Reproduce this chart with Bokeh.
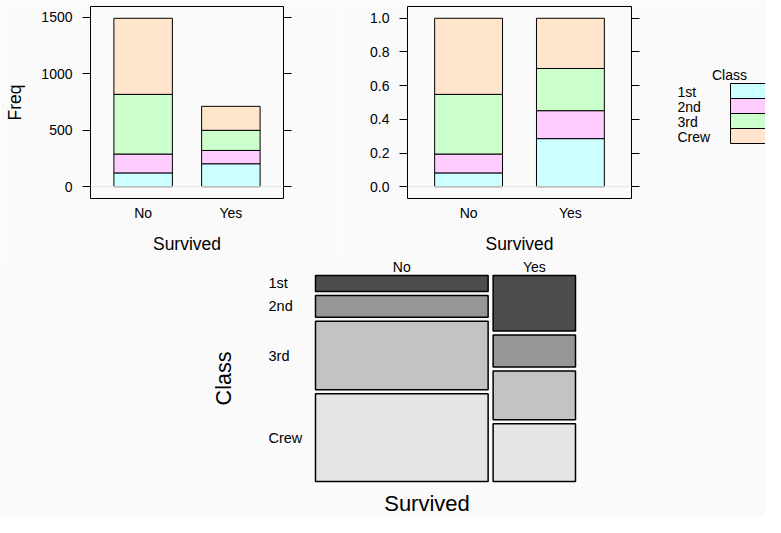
import math
from bokeh.plotting import figure
from bokeh.models import Range1d, FixedTicker, LinearAxis, Span, NumeralTickFormatter, BasicTickFormatter
from bokeh.layouts import row, column
from bokeh.embed import file_html
from bokeh.resources import INLINE
from bokeh.core.properties import value

# ---------------- data ----------------
survived = ["No", "Yes"]
classes = ["1st", "2nd", "3rd", "Crew"]
freq_no = [122, 167, 528, 673]
freq_yes = [203, 118, 178, 212]
freq_ticks = [0, 500, 1000, 1500]
prop_ticks = [0.0, 0.2, 0.4, 0.6, 0.8, 1.0]
class_colors = ["#CCFFFF", "#FFCCFF", "#CCFFCC", "#FFE5CC"]
mosaic_grays = ["#4D4D4D", "#969696", "#C3C3C3", "#E6E6E6"]

FONT = "Liberation Sans"
BG = "#fafafa"
TOTAL_W = 765
TOTAL_H = 517
TOP_H = 256
FR_TOP = 6
FR_H = 192

counts = [freq_no, freq_yes]
col_totals = [sum(c) for c in counts]
props = [[v / t for v in c] for c, t in zip(counts, col_totals)]


def bar_panel(table, ticks, formatter, frame_w, left, right, ylab):
    n = len(survived)
    xs = list(range(1, n + 1))
    ymax = max(sum(col) for col in table)
    p = figure(frame_width=frame_w, frame_height=FR_H,
               min_border_left=left, min_border_right=right,
               min_border_top=FR_TOP, min_border_bottom=TOP_H - FR_TOP - FR_H,
               x_range=Range1d(0.4, n + 0.6),
               y_range=Range1d(-0.07 * ymax, 1.07 * ymax),
               output_backend="svg", toolbar_location=None,
               background_fill_color=BG, border_fill_color=BG)
    p.grid.visible = False
    p.outline_line_color = "black"
    p.outline_line_width = 1
    p.outline_line_alpha = 1

    p.add_layout(Span(location=0, dimension="width", line_color="#E6E6E6", line_width=1))

    src = {"x": xs}
    for i, c in enumerate(classes):
        src[c] = [table[j][i] for j in range(n)]
    p.vbar_stack(classes, x="x", width=2 / 3, source=src,
                 fill_color=class_colors, line_color="black", line_width=1)

    xa = p.xaxis[0]
    xa.ticker = FixedTicker(ticks=xs)
    xa.major_label_overrides = {x: s for x, s in zip(xs, survived)}
    xa.major_tick_out = 0
    xa.major_tick_in = 0
    xa.minor_tick_line_color = None
    xa.axis_line_color = None
    xa.major_label_standoff = 6
    xa.major_label_text_font = FONT
    xa.major_label_text_font_size = "14px"
    xa.major_label_text_color = "black"
    xa.axis_label = "Survived"
    xa.axis_label_text_font = FONT
    xa.axis_label_text_font_size = "17.5px"
    xa.axis_label_text_font_style = "normal"
    xa.axis_label_text_color = "black"
    xa.axis_label_standoff = 10

    ya = p.yaxis[0]
    ya.ticker = FixedTicker(ticks=ticks)
    ya.formatter = formatter
    ya.major_tick_out = 8
    ya.major_tick_in = 0
    ya.major_tick_line_color = "black"
    ya.minor_tick_line_color = None
    ya.axis_line_color = None
    ya.major_label_standoff = 10
    ya.major_label_text_font = FONT
    ya.major_label_text_font_size = "14px"
    ya.major_label_text_color = "black"
    if ylab:
        ya.axis_label = ylab
        ya.axis_label_text_font = FONT
        ya.axis_label_text_font_size = "17.5px"
        ya.axis_label_text_font_style = "normal"
        ya.axis_label_text_color = "black"
        ya.axis_label_standoff = 13

    ra = LinearAxis(ticker=FixedTicker(ticks=ticks), major_tick_out=8, major_tick_in=0,
                    minor_tick_line_color=None, axis_line_color=None,
                    major_label_text_color=None, major_label_text_font_size="10px")
    p.add_layout(ra, "right")
    return p


# panel 1: 90 + 193 + 60 = 343 ; panel 2: 64 + 224 + 46 = 334 ; legend 88
p1 = bar_panel(counts, freq_ticks, BasicTickFormatter(), 193, 90, 60, "Freq")
p2 = bar_panel(props, prop_ticks, NumeralTickFormatter(format="0.0"), 224, 64, 46, None)

# ---------------- legend ----------------
LW = TOTAL_W - 343 - 334
leg = figure(frame_width=LW, frame_height=TOP_H, min_border=0,
             x_range=Range1d(0, LW), y_range=Range1d(TOP_H, 0),
             x_axis_location=None, y_axis_location=None,
             output_backend="svg", toolbar_location=None,
             background_fill_color=BG, border_fill_color=BG)
leg.grid.visible = False
leg.outline_line_color = None
row_h = 15
key_top = 77
tops = [key_top + i * row_h for i in range(len(classes))]
bots = [t + row_h for t in tops]
mids = [t + row_h / 2 + 1 for t in tops]
leg.quad(left=53, right=LW + 10, top=tops, bottom=bots,
         fill_color=class_colors, line_color="black", line_width=1)
leg.text(x=[0] * len(classes), y=mids, text=classes, text_align="left",
         text_baseline="middle", text_font=value(FONT), text_font_size="14px",
         text_color="black")
leg.text(x=[52], y=[key_top - 9], text=["Class"], text_align="center", text_baseline="middle",
         text_font=value(FONT), text_font_size="14px", text_color="black")

# ---------------- mosaic ----------------
L, W = 315, 260
R = TOTAL_W - L - W
T, H = 19, 206
B = TOTAL_H - TOP_H - T - H
gap_x, gap_y = 5, 4
p3 = figure(frame_width=L + W + R, frame_height=T + H + B, min_border=0,
            x_range=Range1d(-L, W + R), y_range=Range1d(H + B, -T),
            x_axis_location=None, y_axis_location=None,
            output_backend="svg", toolbar_location=None,
            background_fill_color=BG, border_fill_color=BG)
p3.grid.visible = False
p3.outline_line_color = None

grand = sum(col_totals)
avail_w = W - gap_x * (len(survived) - 1)
avail_h = H - gap_y * (len(classes) - 1)
lefts, rights, qtops, qbots, fills = [], [], [], [], []
col_centers = []
row_centers_first = []
x = 0.0
for j, (col, tot) in enumerate(zip(counts, col_totals)):
    w = avail_w * tot / grand
    col_centers.append(x + w / 2)
    y = 0.0
    for i, v in enumerate(col):
        h = avail_h * v / tot
        lefts.append(x)
        rights.append(x + w)
        qtops.append(y)
        qbots.append(y + h)
        fills.append(mosaic_grays[i])
        if j == 0:
            row_centers_first.append(y + h / 2)
        y += h + gap_y
    x += w + gap_x

p3.quad(left=lefts, right=rights, top=qtops, bottom=qbots,
        fill_color=fills, line_color="black", line_width=1.5)
p3.text(x=col_centers, y=[-1] * len(survived), text=survived, text_align="center",
        text_baseline="bottom", text_font=value(FONT), text_font_size="14px",
        text_color="black")
p3.text(x=[-47] * len(classes), y=row_centers_first, text=classes, text_align="left",
        text_baseline="middle", text_font=value(FONT), text_font_size="14.5px",
        text_color="black")
p3.text(x=[-91.5], y=[H / 2], text=["Class"], angle=math.pi / 2, text_align="center",
        text_baseline="middle", text_font=value(FONT), text_font_size="21.5px",
        text_color="black")
p3.text(x=[111.5], y=[H + 22], text=["Survived"], text_align="center",
        text_baseline="middle", text_font=value(FONT), text_font_size="22px",
        text_color="black")

layout = column(row(p1, p2, leg), p3)
open("out.html", "w").write(file_html(layout, INLINE))
